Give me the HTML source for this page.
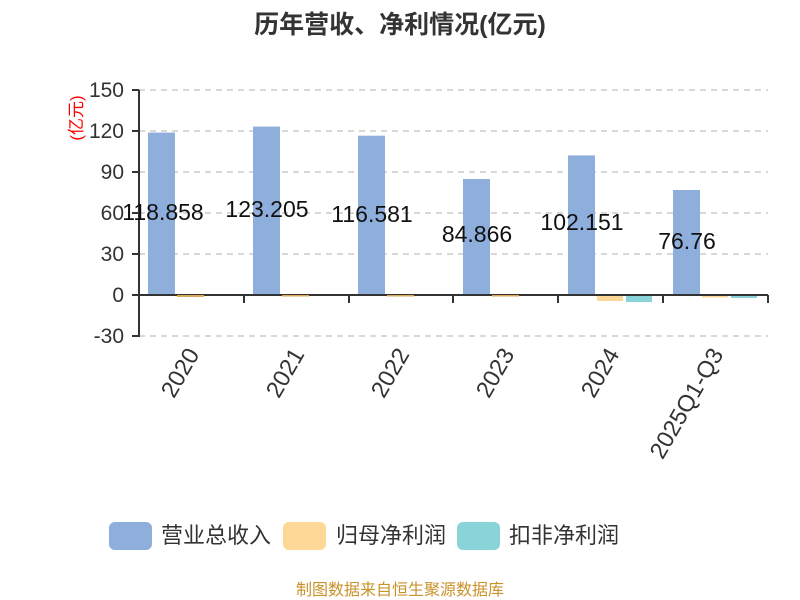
<!DOCTYPE html>
<html><head><meta charset="utf-8"><style>
html,body{margin:0;padding:0;background:#fff;width:800px;height:600px;overflow:hidden}
svg text{font-family:"Liberation Sans","Noto Sans CJK SC",sans-serif}
</style></head><body>
<svg width="800" height="600" viewBox="0 0 800 600" xmlns="http://www.w3.org/2000/svg">
<text x="400" y="33" text-anchor="middle" font-size="25" font-weight="bold" fill="#333">历年营收、净利情况(亿元)</text>
<g stroke="#ccc" stroke-width="1.5" stroke-dasharray="6,5">
<line x1="139" y1="90" x2="768" y2="90"/><line x1="139" y1="131" x2="768" y2="131"/>
<line x1="139" y1="172" x2="768" y2="172"/><line x1="139" y1="213" x2="768" y2="213"/>
<line x1="139" y1="254" x2="768" y2="254"/><line x1="139" y1="336" x2="768" y2="336"/>
</g>
<g fill="#333" font-size="21" text-anchor="end">
<text x="124" y="97">150</text><text x="124" y="138">120</text><text x="124" y="179">90</text>
<text x="124" y="220">60</text><text x="124" y="261">30</text><text x="124" y="302">0</text><text x="124" y="343">-30</text>
</g>
<text transform="translate(82,118) rotate(-90)" text-anchor="middle" font-size="17" fill="#f00">(亿元)</text>
<g fill="#8eaedb">
<rect x="148" y="132.6" width="27" height="162.4"/>
<rect x="253" y="126.6" width="27" height="168.4"/>
<rect x="358" y="135.7" width="27" height="159.3"/>
<rect x="463" y="179" width="27" height="116"/>
<rect x="568" y="155.4" width="27" height="139.6"/>
<rect x="673" y="190" width="27" height="105"/>
</g>
<g stroke="#333" stroke-width="2">
<line x1="139" y1="90" x2="139" y2="337"/>
<line x1="132" y1="90" x2="139" y2="90"/><line x1="132" y1="131" x2="139" y2="131"/><line x1="132" y1="172" x2="139" y2="172"/>
<line x1="132" y1="213" x2="139" y2="213"/><line x1="132" y1="254" x2="139" y2="254"/><line x1="132" y1="295" x2="139" y2="295"/><line x1="132" y1="336" x2="139" y2="336"/>
<line x1="139" y1="295" x2="768" y2="295"/>
<line x1="244" y1="295" x2="244" y2="303"/><line x1="349" y1="295" x2="349" y2="303"/><line x1="453" y1="295" x2="453" y2="303"/>
<line x1="558" y1="295" x2="558" y2="303"/><line x1="663" y1="295" x2="663" y2="303"/><line x1="768" y1="295" x2="768" y2="303"/>
</g>
<g fill="#d9a75a">
<rect x="177" y="295" width="27" height="2"/><rect x="282" y="295" width="27" height="1.5"/>
<rect x="387" y="295" width="27" height="1.5"/><rect x="492" y="295" width="27" height="1.5"/>
</g>
<rect x="597" y="296" width="26" height="5" fill="#fdd897"/><rect x="702" y="296" width="26" height="1.5" fill="#fdd897"/>
<rect x="626" y="296" width="26" height="6" fill="#88d4d8"/><rect x="731" y="296" width="26" height="2" fill="#88d4d8"/>
<g fill="#111" font-size="23" text-anchor="middle">
<text x="163" y="220">118.858</text><text x="267" y="217">123.205</text><text x="372" y="222">116.581</text>
<text x="477" y="242">84.866</text><text x="582" y="230">102.151</text><text x="687" y="249">76.76</text>
</g>
<g fill="#333" font-size="23.5" text-anchor="end">
<text transform="translate(200,354) rotate(-60)">2020</text>
<text transform="translate(305,354) rotate(-60)">2021</text>
<text transform="translate(410,354) rotate(-60)">2022</text>
<text transform="translate(515,354) rotate(-60)">2023</text>
<text transform="translate(620,354) rotate(-60)">2024</text>
<text transform="translate(724,354) rotate(-60)">2025Q1-Q3</text>
</g>
<rect x="109" y="522" width="43" height="28" rx="6" fill="#8eaedb"/>
<text x="161" y="543" font-size="22" fill="#333">营业总收入</text>
<rect x="283" y="522" width="43" height="28" rx="6" fill="#fdd897"/>
<text x="336" y="543" font-size="22" fill="#333">归母净利润</text>
<rect x="457" y="522" width="43" height="28" rx="6" fill="#88d4d8"/>
<text x="509" y="543" font-size="22" fill="#333">扣非净利润</text>
<text x="400" y="595" text-anchor="middle" font-size="16" fill="#c8922a">制图数据来自恒生聚源数据库</text>
</svg>
</body></html>
